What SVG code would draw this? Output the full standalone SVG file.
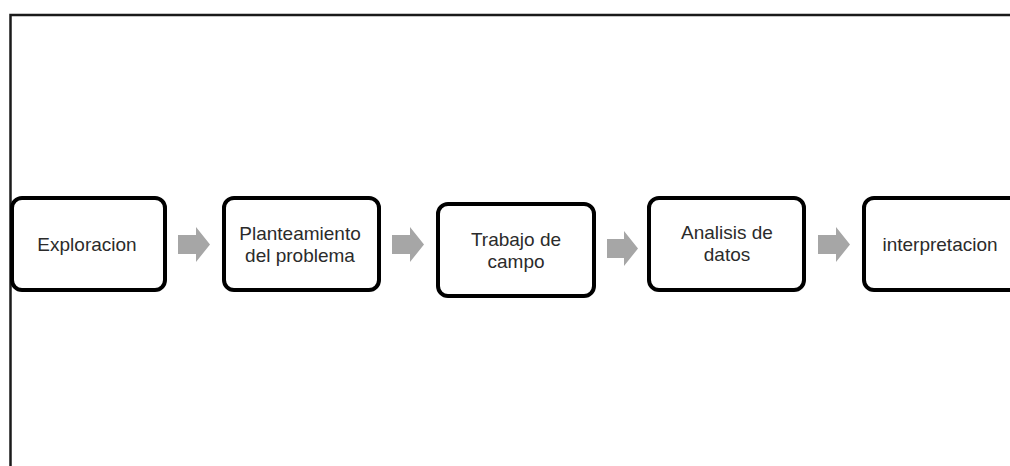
<svg xmlns="http://www.w3.org/2000/svg" width="1010" height="466" viewBox="0 0 1010 466">
<defs>
<style>
.frame{fill:none;stroke:#1a1a1a;stroke-width:2.5}
.box{fill:#ffffff;stroke:#000000;stroke-width:4}
.lbl{font-family:"Liberation Sans","Open Sans",sans-serif;font-size:19px;fill:#2b2b2b;text-anchor:middle}
.arr{fill:#a6a6a6}
</style>
</defs>
<rect width="1010" height="466" fill="#ffffff"/>
<polyline class="frame" points="10.5,466 10.5,15 1010,15"/>
<g id="connectors">
<polygon class="arr" points="178,235 196,235 196,227 210,244.5 196,262 196,254 178,254"/>
<polygon class="arr" points="392,235 410,235 410,227 424,244.5 410,262 410,254 392,254"/>
<polygon class="arr" points="607,239 624,239 624,231 638,248.5 624,266 624,258 607,258"/>
<polygon class="arr" points="818,235 836,235 836,227 850,244.5 836,262 836,254 818,254"/>
</g>
<g id="n1"><rect class="box" x="12" y="198" width="153" height="92" rx="10"/><text class="lbl" x="87" y="251">Exploracion</text></g>
<g id="n2"><rect class="box" x="224" y="198" width="155" height="92" rx="10"/><text class="lbl" x="300" y="240">Planteamiento<tspan x="300" dy="22">del problema</tspan></text></g>
<g id="n3"><rect class="box" x="438" y="204" width="156" height="92" rx="10"/><text class="lbl" x="516" y="246">Trabajo de<tspan x="516" dy="22">campo</tspan></text></g>
<g id="n4"><rect class="box" x="649" y="198" width="155" height="92" rx="10"/><text class="lbl" x="727" y="239">Analisis de<tspan x="727" dy="22">datos</tspan></text></g>
<g id="n5"><rect class="box" x="864" y="198" width="157" height="92" rx="10"/><text class="lbl" x="940" y="251">interpretacion</text></g>
</svg>
